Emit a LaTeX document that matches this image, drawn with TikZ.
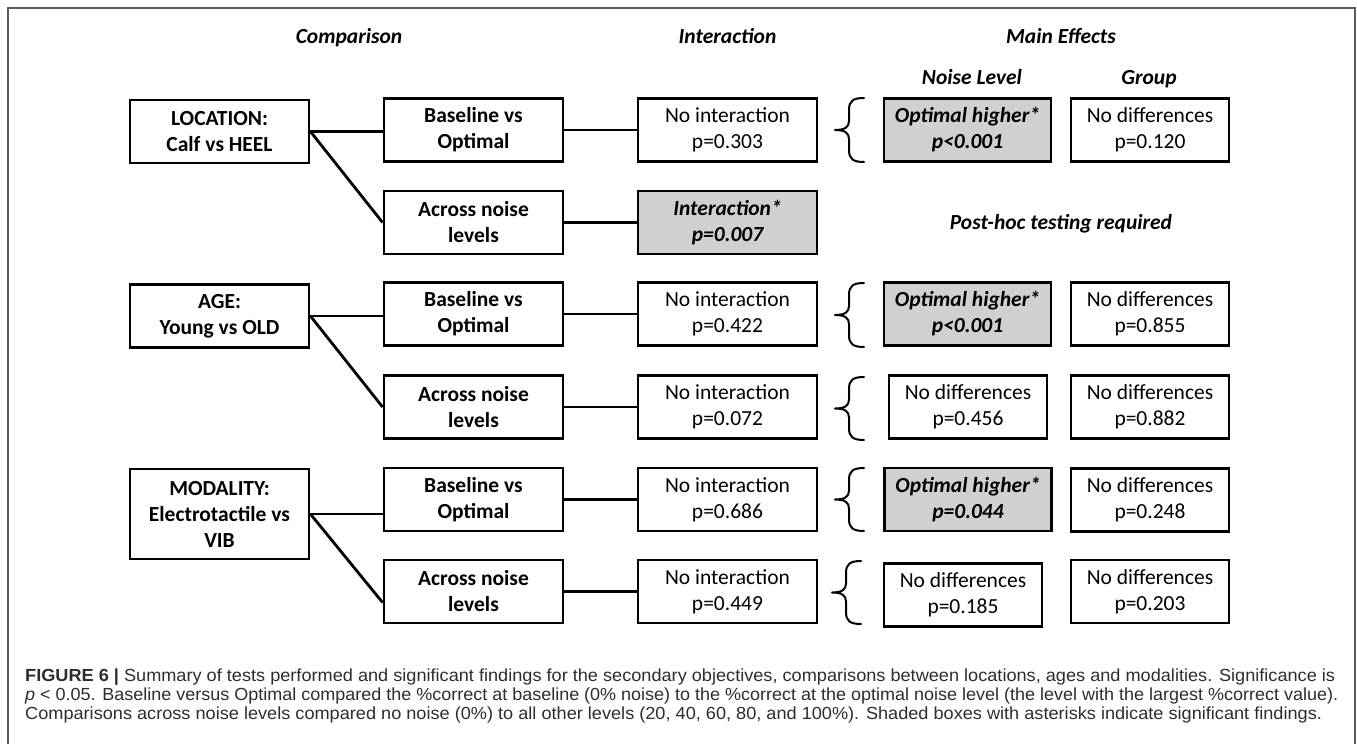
\documentclass[tikz,border=0pt]{standalone}
\usepackage{fontspec}
\usepackage{graphicx}
\setmainfont{Carlito}
\newfontfamily\capfont{Liberation Sans}
\definecolor{shade}{RGB}{208,208,208}
\definecolor{framec}{RGB}{90,90,90}
\definecolor{captext}{RGB}{45,45,45}
\newcommand\dfont{\fontsize{21.5pt}{26pt}\selectfont}
\newcommand\cfont{\capfont\fontsize{17.5pt}{20pt}\selectfont}
\newlength\caplen
\newcommand\capA{\textbf{FIGURE 6 |} Summary of tests performed and significant findings for the secondary objectives, comparisons between locations, ages and modalities. Significance is}
\newcommand\capB{\textit{p} < 0.05. Baseline versus Optimal compared the \%correct at baseline (0\% noise) to the \%correct at the optimal noise level (the level with the largest \%correct value).}
\newcommand\capC{Comparisons across noise levels compared no noise (0\%) to all other levels (20, 40, 60, 80, and 100\%). Shaded boxes with asterisks indicate significant findings.}
\newcommand\mybrace[3]{%
  \pgfmathsetmacro\brmid{(#1+#2)/2}%
  \draw[brc,xshift=#3] (864,#1) .. controls (853,#1) and (849,#1+3) .. (849,#1+12)
    -- (849,\brmid-9) .. controls (849,\brmid-3) and (845,\brmid) .. (835,\brmid)
    .. controls (845,\brmid) and (849,\brmid+3) .. (849,\brmid+9)
    -- (849,#2-12) .. controls (849,#2-3) and (853,#2) .. (864,#2);}
\begin{document}
\settowidth\caplen{\cfont\capA}%
\pgfmathsetmacro\capsx{1310/\caplen}%
\begin{tikzpicture}[x=1pt,y=-1pt,
  box/.style={draw, line width=2.8pt, minimum width=179pt, minimum height=63pt, align=center, inner sep=0pt, font=\dfont},
  bbox/.style={box, font=\dfont\bfseries},
  sbox/.style={box, fill=shade, font=\dfont\bfseries\itshape},
  nbox/.style={box, minimum width=158pt},
  hdr/.style={anchor=base, inner sep=0pt, font=\dfont\bfseries\itshape},
  conn/.style={line width=2.8pt},
  brc/.style={line width=2pt, line cap=round, line join=round},
  capline/.style={anchor=base west, inner sep=0pt, font=\cfont, text=captext}]
\useasboundingbox (0,0) rectangle (1357,744);
\draw[framec, line width=1.6pt] (8,744) -- (8,8) -- (1355,8) -- (1355,744);

% headers
\node[hdr] (hcomp) at (349,43) {Comparison};
\node[hdr] (hint) at (727.5,43) {Interaction};
\node[hdr] (hmain) at (1061,43) {Main Effects};
\node[hdr] (hnoise) at (972,84) {Noise Level};
\node[hdr] (hgroup) at (1149,84) {Group};

% column A
\node[bbox] (loc) at (219.5,131.5) {LOCATION:\\Calf vs HEEL};
\node[bbox] (age) at (219.5,316) {AGE:\\Young vs OLD};
\node[bbox, minimum height=90pt] (mod) at (219.5,514) {MODALITY:\\Electrotactile vs\\VIB};

% column B
\node[bbox] (lb) at (473.5,130) {Baseline vs\\Optimal};
\node[bbox] (la) at (473.5,222.5) {Across noise\\levels};
\node[bbox] (ab) at (473.5,314) {Baseline vs\\Optimal};
\node[bbox] (aa) at (473.5,407) {Across noise\\levels};
\node[bbox] (mb) at (473.5,499.5) {Baseline vs\\Optimal};
\node[bbox] (ma) at (473.5,591.5) {Across noise\\levels};

% column C
\node[box] (i1) at (727.5,130) {No interaction\\p=0.303};
\node[sbox] (i2) at (727.5,222.5) {Interaction*\\p=0.007};
\node[box] (i3) at (727.5,314) {No interaction\\p=0.422};
\node[box] (i4) at (727.5,407) {No interaction\\p=0.072};
\node[box] (i5) at (727.5,499.5) {No interaction\\p=0.686};
\node[box] (i6) at (727.5,591.5) {No interaction\\p=0.449};

% column D
\node[sbox, minimum width=167pt] (n1) at (967.5,130) {Optimal higher*\\p<0.001};
\node[sbox, minimum width=167pt] (n3) at (967.5,314) {Optimal higher*\\p<0.001};
\node[nbox] (n4) at (968,407) {No differences\\p=0.456};
\node[sbox, minimum width=167pt] (n5) at (968,499.5) {Optimal higher*\\p=0.044};
\node[nbox] (n6) at (963,595) {No differences\\p=0.185};
\node[hdr] (posthoc) at (1061,229) {Post-hoc testing required};

% column E
\node[nbox] (g1) at (1150,130) {No differences\\p=0.120};
\node[nbox] (g3) at (1150,314) {No differences\\p=0.855};
\node[nbox] (g4) at (1150,407) {No differences\\p=0.882};
\node[nbox] (g5) at (1150,500) {No differences\\p=0.248};
\node[nbox] (g6) at (1150,591.5) {No differences\\p=0.203};

% connectors
\draw[conn] (loc.east) -- (lb.west |- loc.east);
\draw[conn] (loc.east) -- (la.west);
\draw[conn] (age.east) -- (ab.west |- age.east);
\draw[conn] (age.east) -- (aa.west);
\draw[conn] (mod.east) -- (mb.west |- mod.east);
\draw[conn] (mod.east) -- ([yshift=-11pt]ma.west);
\draw[conn] (lb) -- (i1);
\draw[conn] (la) -- (i2);
\draw[conn] (ab) -- (i3);
\draw[conn] (aa) -- (i4);
\draw[conn] (mb) -- (i5);
\draw[conn] (ma) -- (i6);

% braces
\mybrace{98}{162}{0pt}
\mybrace{283}{347}{0pt}
\mybrace{377}{440}{0pt}
\mybrace{468}{531}{0pt}
\mybrace{561}{624}{-3pt}

% caption
\node[capline] (cap1) at (25,681) {\scalebox{\capsx}[1]{\capA}};
\node[capline] (cap2) at (25,700) {\resizebox{1313pt}{\height}{\capB}};
\node[capline] (cap3) at (25,719) {\scalebox{\capsx}[1]{\capC}};
\end{tikzpicture}
\end{document}
